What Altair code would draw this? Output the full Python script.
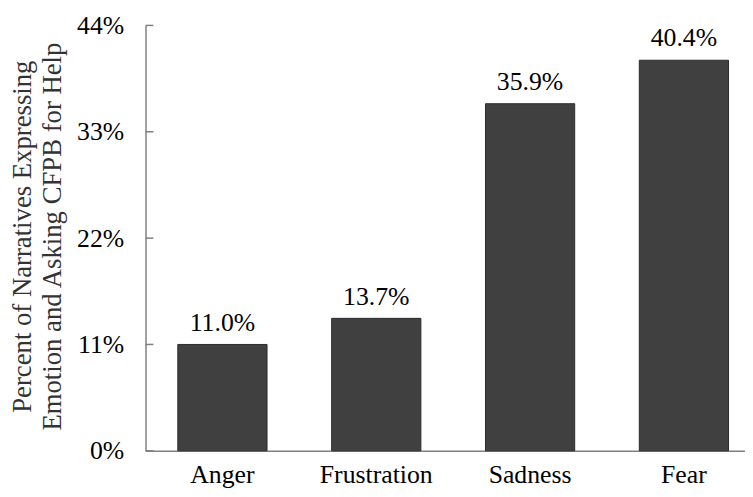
import altair as alt
import pandas as pd

categories = ["Anger", "Frustration", "Sadness", "Fear"]
values = [11.0, 13.7, 35.9, 40.4]
y_ticks = [0, 11, 22, 33, 44]

df = pd.DataFrame({"emotion": categories, "pct": values,
                   "label": [f"{v:.1f}%" for v in values]})
ticks_df = pd.DataFrame({"t": y_ticks})

FONT = "Liberation Serif"

x_scale = alt.Scale(paddingInner=0.42, paddingOuter=0.21, range=[0, 622])
x_enc = alt.X("emotion:N", sort=categories, scale=x_scale,
              axis=alt.Axis(title=None, labelAngle=0, labelFontSize=26, labelFont=FONT,
                            labelColor="#000000", ticks=False, labelPadding=11,
                            domainColor="#808080", domainWidth=1.5))
y_scale = alt.Scale(domain=[0, 44], nice=False)

bars = alt.Chart(df).mark_bar(color="#404040", stroke="#2a2a2a", strokeWidth=1).encode(
    x=x_enc,
    y=alt.Y("pct:Q", scale=y_scale,
            axis=alt.Axis(values=y_ticks, labelExpr="datum.value + '%'", grid=False,
                          ticks=False, labelFontSize=26, labelFont=FONT, labelColor="#000000",
                          labelPadding=22, domainColor="#808080", domainWidth=1.5,
                          title=["Percent   of Narratives Expressing", "Emotion and Asking CFPB for Help"],
                          titleFont=FONT, titleFontSize=27, titleFontWeight="normal",
                          titleColor="#333333", titleX=-124, titleY=213, titleAngle=-90,
                          titleAlign="center", titleBaseline="middle", titleLineHeight=30)),
)

text = alt.Chart(df).mark_text(font=FONT, fontSize=26, color="#000000", dy=-14,
                               baseline="alphabetic").encode(
    x=alt.X("emotion:N", sort=categories, scale=x_scale),
    y=alt.Y("pct:Q", scale=y_scale),
    text="label:N",
)

tick_rules = alt.Chart(ticks_df).mark_rule(color="#808080", strokeWidth=1.5).encode(
    y=alt.Y("t:Q", scale=y_scale),
    x=alt.value(0),
    x2=alt.value(8),
)

chart = alt.layer(bars, text, tick_rules).properties(
    width=606, height=430,
    autosize=alt.AutoSizeParams(type="none"),
    padding={"left": 139, "top": 15, "right": 0, "bottom": 36},
).configure_view(stroke=None)

chart.save("out.html", embed_options={"renderer": "svg", "actions": False})
